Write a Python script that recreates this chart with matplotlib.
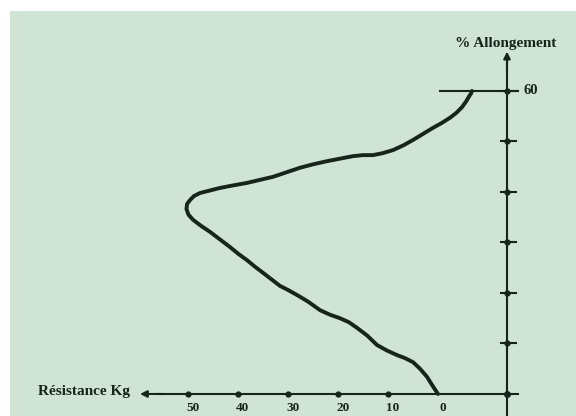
import matplotlib
matplotlib.use("Agg")
import matplotlib.pyplot as plt

# curve: resistance (kg) vs elongation (%)
resistance = [0, 1.2, 2.2, 3.6, 5, 6.6, 8.2, 10.2, 12.2, 14.2, 16.2, 17.8,
              19.6, 21.6, 23.6, 26, 28.2, 30, 31.6, 33.3, 35, 36.6, 38.2,
              40, 41.6, 43.6, 45.6, 47.4, 49, 49.9, 50.3, 50.2, 49.6, 48.8,
              47.6, 45.6, 43.6, 41, 38.2, 35.6, 33, 30.3, 27.6, 24.9, 22.2,
              19.6, 17, 15, 13, 11, 9, 7, 5, 3, 1, -0.8, -2.4, -3.7, -4.8,
              -5.6, -6.2, -6.6, -6.8]
elongation = [0, 1.8, 3.4, 5, 6.3, 7.1, 7.7, 8.6, 9.7, 11.6, 13.1, 14.2,
              15, 15.7, 16.6, 18.3, 19.6, 20.6, 21.4, 22.7, 24, 25.2, 26.5,
              27.8, 29.1, 30.6, 32.1, 33.3, 34.5, 35.5, 36.6, 37.6, 38.4,
              39.2, 39.8, 40.3, 40.8, 41.3, 41.8, 42.4, 43, 43.9, 44.8,
              45.5, 46.1, 46.6, 47.1, 47.3, 47.3, 47.7, 48.3, 49.2, 50.3,
              51.5, 52.7, 53.7, 54.7, 55.7, 56.8, 57.9, 58.9, 59.5, 60]

x_ticks = [50, 40, 30, 20, 10, 0]
y_ticks = [10, 20, 30, 40, 50, 60]
y_labels = {60: "60"}

INK = "#17241b"
BG = "#cfe4d5"
FONT = "Liberation Serif"

fig = plt.figure(figsize=(5.76, 4.16), dpi=100)
fig.patch.set_facecolor("white")
ax = fig.add_axes([10 / 576, 0, 566 / 576, 405 / 416])
ax.set_xlim(85.6, -27.6)
ax.set_ylim(-4.36, 75.84)
ax.axis("off")
ax.add_patch(plt.Rectangle((0, 0), 1, 1, transform=ax.transAxes,
                           facecolor=BG, edgecolor="none", zorder=0))

y_axis_x = -13.8

# horizontal axis with arrow to the left
ax.plot([-16, 56], [0, 0], color=INK, lw=1.5, zorder=2)
ax.annotate("", xy=(59.6, 0), xytext=(55, 0),
            arrowprops=dict(arrowstyle="-|>", color=INK, lw=1.5,
                            mutation_scale=10, shrinkA=0, shrinkB=0))
# vertical axis with arrow at top
ax.plot([y_axis_x, y_axis_x], [-5, 66], color=INK, lw=1.5, zorder=2)
ax.annotate("", xy=(y_axis_x, 67.8), xytext=(y_axis_x, 64),
            arrowprops=dict(arrowstyle="-|>", color=INK, lw=1.5,
                            mutation_scale=10, shrinkA=0, shrinkB=0))

# x ticks: dots and labels
ax.plot(x_ticks[:-1], [0] * (len(x_ticks) - 1), "o", color=INK, ms=3.5, zorder=3)
ax.plot([y_axis_x], [0], "o", color=INK, ms=4, zorder=3)
for v in x_ticks:
    ax.text(v - 1, -4.0, str(v), ha="center", va="bottom", fontsize=9.5,
            family=FONT, fontweight="bold", color=INK)

# y ticks: small crosses on the vertical axis
for v in y_ticks:
    ax.plot([y_axis_x + 1.2, y_axis_x - 1.8], [v, v], color=INK, lw=1.5, zorder=3)
    ax.plot([y_axis_x], [v], "o", color=INK, ms=3.5, zorder=3)
    if v in y_labels:
        ax.text(y_axis_x - 3.4, v, y_labels[v], ha="left", va="center",
                fontsize=10.5, family=FONT, fontweight="bold", color=INK)

# 60% line
ax.plot([-0.4, -16], [60, 60], color=INK, lw=1.5, zorder=2)

# the curve
ax.plot(resistance, elongation, color=INK, lw=2.8, solid_capstyle="round",
        solid_joinstyle="round", zorder=4)

ax.text(-3.4, 69.5, "% Allongement", ha="left", va="center", fontsize=11,
        family=FONT, fontweight="bold", color=INK)
ax.text(61.6, 0.4, "Résistance Kg", ha="right", va="center", fontsize=11,
        family=FONT, fontweight="bold", color=INK)

fig.savefig("out.png", dpi=100)
